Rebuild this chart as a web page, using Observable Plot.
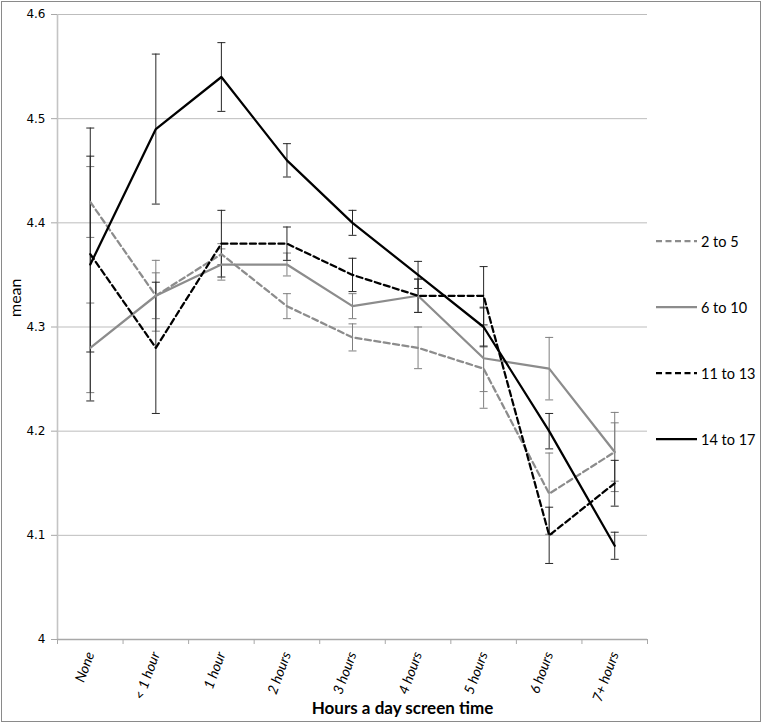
<!DOCTYPE html>
<html>
<head>
<meta charset="utf-8">
<script src="https://cdn.jsdelivr.net/npm/d3@7"></script>
<script src="https://cdn.jsdelivr.net/npm/@observablehq/plot@0.6"></script>
<style>
  html, body { margin: 0; padding: 0; background: #fff; }
  #wrap { position: relative; width: 766px; height: 724px; overflow: hidden; }
  #frame { position: absolute; left: 1px; top: 1px; width: 758px; height: 719px; border: 1px solid #8a8a8a; pointer-events: none; }
  #legend { position: absolute; left: 656px; top: 0; font-family: Lato, "Open Sans", sans-serif; font-size: 14.5px; color: #000; }
  .item { position: absolute; left: 0; display: flex; align-items: center; white-space: nowrap; }
  .item svg { display: block; margin-right: 3px; }
</style>
</head>
<body>
<div id="wrap">
  <div id="chart"></div>
  <div id="legend"></div>
  <div id="frame"></div>
</div>
<script>
// ---- data ----
const categories = ["None", "< 1 hour", "1 hour", "2 hours", "3 hours", "4 hours", "5 hours", "6 hours", "7+ hours"];
const seriesNames = ["2 to 5", "6 to 10", "11 to 13", "14 to 17"];

const mean2to5   = [4.42, 4.33, 4.37, 4.32, 4.29, 4.28, 4.26, 4.14, 4.18];
const err2to5    = [0.034, 0.034, 0.010, 0.012, 0.013, 0.020, 0.022, 0.039, 0.038];
const mean6to10  = [4.28, 4.33, 4.36, 4.36, 4.32, 4.33, 4.27, 4.26, 4.18];
const err6to10   = [0.043, 0.022, 0.015, 0.011, 0.012, 0.016, 0.048, 0.030, 0.028];
const mean11to13 = [4.37, 4.28, 4.38, 4.38, 4.35, 4.33, 4.33, 4.10, 4.15];
const err11to13  = [0.094, 0.063, 0.032, 0.016, 0.016, 0.016, 0.028, 0.027, 0.022];
const mean14to17 = [4.36, 4.49, 4.54, 4.46, 4.40, 4.35, 4.30, 4.20, 4.09];
const err14to17  = [0.131, 0.072, 0.033, 0.016, 0.012, 0.013, 0.019, 0.017, 0.013];

const yTicks = [4.0, 4.1, 4.2, 4.3, 4.4, 4.5, 4.6];
const yTickLabels = ["4", "4.1", "4.2", "4.3", "4.4", "4.5", "4.6"];

const xTitle = "Hours a day screen time";
const yTitle = "mean";

// ---- styles ----
const seriesColor = ["#8c8c8c", "#8c8c8c", "#000000", "#000000"];
const errColor    = ["#7f7f7f", "#7f7f7f", "#262626", "#262626"];
const seriesDash  = ["6,3.5", null, "6,3.5", null];

const means = [mean2to5, mean6to10, mean11to13, mean14to17];
const errs = [err2to5, err6to10, err11to13, err14to17];

const idx = categories.map((_, i) => i);
const bounds = [...idx.map(i => i - 0.5), categories.length - 0.5];

const rowsFor = s => idx.map(i => ({i, mean: means[s][i], lo: means[s][i] - errs[s][i], hi: means[s][i] + errs[s][i]}));

const capSymbol = { draw(context) { const w = 4; context.moveTo(-w, 0); context.lineTo(w, 0); } };

const errMarks = [];
const lineMarks = [];
seriesNames.forEach((name, s) => {
  const rows = rowsFor(s);
  const caps = rows.flatMap(r => [{i: r.i, v: r.lo}, {i: r.i, v: r.hi}]);
  errMarks.push(Plot.ruleX(rows, {x: "i", y1: "lo", y2: "hi", stroke: errColor[s], strokeWidth: 1}));
  errMarks.push(Plot.dot(caps, {x: "i", y: "v", symbol: capSymbol, stroke: errColor[s], fill: "none", strokeWidth: 1}));
  lineMarks.push(Plot.line(rows, {x: "i", y: "mean", stroke: seriesColor[s], strokeWidth: 2.25, strokeDasharray: seriesDash[s] || undefined}));
});

const chart = Plot.plot({
  width: 766,
  height: 724,
  marginLeft: 57,
  marginRight: 119,
  marginTop: 14,
  marginBottom: 85,
  x: {type: "linear", domain: [-0.5, categories.length - 0.5]},
  y: {domain: [4, 4.6]},
  style: {fontFamily: "Lato, 'Open Sans', sans-serif", background: "transparent", color: "#000"},
  marks: [
    Plot.gridY(yTicks, {stroke: "#bdbdbd", strokeOpacity: 1, strokeWidth: 1}),
    Plot.ruleX([-0.5], {stroke: "#c4c4c4", strokeWidth: 1.6}),
    Plot.ruleY([4], {stroke: "#a8a8a8", strokeWidth: 1.3}),
    Plot.axisY(yTicks, {tickSize: 6, tickPadding: 6, tickFormat: (d, k) => yTickLabels[k], stroke: "#a8a8a8", label: null, fontSize: 12, fontFamily: "'DejaVu Sans', sans-serif"}),
    Plot.axisX(bounds, {tickSize: 5, tickFormat: () => "", stroke: "#a8a8a8", label: null}),
    Plot.axisX(idx, {tickSize: 0, tickPadding: 13, tickRotate: -70, tickFormat: i => categories[i], fontStyle: "italic", fontSize: 14, label: null}),
    Plot.text([xTitle], {frameAnchor: "bottom", dx: 50, dy: 69, fontWeight: "bold", fontSize: 17, lineAnchor: "middle"}),
    Plot.text([yTitle], {frameAnchor: "left", rotate: -90, dx: -42, dy: -10, fontSize: 16}),
    ...errMarks,
    ...lineMarks
  ]
});
document.getElementById("chart").appendChild(chart);

// ---- legend ----
const legend = document.getElementById("legend");
const legendTops = [241, 307, 373, 439];
seriesNames.forEach((name, s) => {
  const item = document.createElement("div");
  item.className = "item";
  item.style.top = (legendTops[s] - 10) + "px";
  item.style.height = "20px";
  const sw = d3.create("svg").attr("width", 42).attr("height", 20);
  sw.append("line").attr("x1", 0).attr("x2", 41).attr("y1", 10).attr("y2", 10)
    .attr("stroke", seriesColor[s]).attr("stroke-width", 2.25)
    .attr("stroke-dasharray", seriesDash[s] || null);
  item.appendChild(sw.node());
  const t = document.createElement("span");
  t.textContent = name;
  item.appendChild(t);
  legend.appendChild(item);
});
</script>
</body>
</html>
